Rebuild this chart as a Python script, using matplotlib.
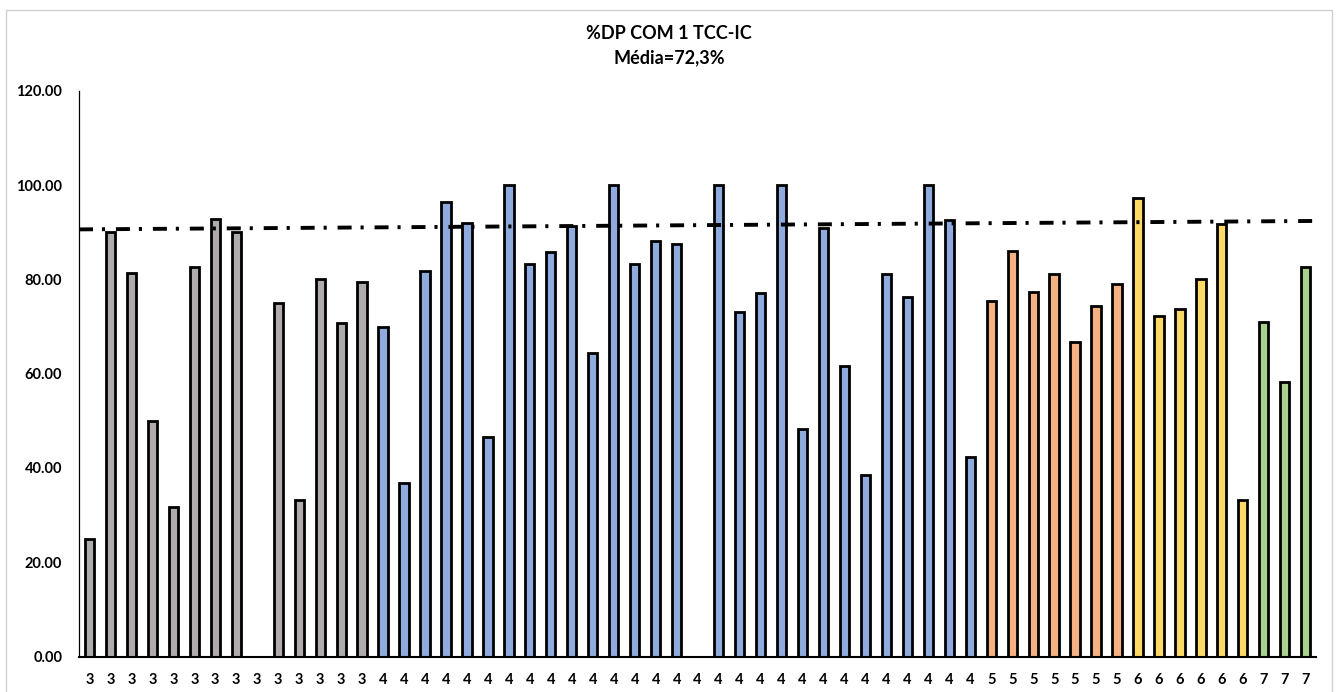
import matplotlib.pyplot as plt
from matplotlib.patches import Rectangle

plt.rcParams['font.family'] = ['Lato', 'DejaVu Sans']

# group code of each entry (x tick labels)
groups = [3] * 14 + [4] * 29 + [5] * 7 + [6] * 6 + [7] * 3

# %DP per entry
values = [
    25.0, 90.0, 81.4, 50.0, 31.7, 82.6, 92.9, 90.0, 0.0, 75.0, 33.3, 80.0, 70.8, 79.4,
    69.9, 36.9, 81.8, 96.5, 92.0, 46.6, 100.0, 83.3, 85.7, 91.3, 64.3, 100.0, 83.3,
    88.2, 87.5, 0.0, 100.0, 73.1, 77.1, 100.0, 48.2, 90.8, 61.7, 38.6, 81.1, 76.2,
    100.0, 92.5, 42.4,
    75.4, 86.1, 77.3, 81.2, 66.7, 74.4, 79.0,
    97.2, 72.2, 73.7, 80.0, 91.7, 33.3,
    70.9, 58.3, 82.7,
]

group_colors = {3: '#AFABAB', 4: '#8FAADC', 5: '#F4B183', 6: '#FFD966', 7: '#A9D18E'}

# dash-dot reference line, start and end value
trend_start = 90.6
trend_end = 92.4

fig = plt.figure(figsize=(13.39, 6.92), dpi=100)
ax = fig.add_axes([0.059, 0.0513, 0.924, 0.8175])

x = list(range(len(values)))
colors = [group_colors[g] for g in groups]
ax.bar(x, values, width=0.44, color=colors, edgecolor='black', linewidth=2.0, zorder=2)

line, = ax.plot([-0.5, len(values) - 0.2], [trend_start, trend_end],
                color='black', linewidth=2.8, zorder=3)
line.set_dashes([3.6, 2.3, 0.8, 2.8])

ax.set_xlim(-0.5, len(values) - 0.5)
ax.set_ylim(0, 120)
ax.set_yticks([0, 20, 40, 60, 80, 100, 120])
ax.set_yticklabels([f'{v:.2f}' for v in [0, 20, 40, 60, 80, 100, 120]])
ax.set_xticks(x)
ax.set_xticklabels([str(g) for g in groups])

ax.tick_params(axis='both', length=0, labelsize=10.5)
ax.tick_params(axis='y', pad=12)
ax.tick_params(axis='x', pad=12)
for lbl in ax.get_xticklabels() + ax.get_yticklabels():
    lbl.set_fontweight('bold')

for side in ['top', 'right']:
    ax.spines[side].set_visible(False)
ax.spines['left'].set_linewidth(0.9)
ax.spines['bottom'].set_linewidth(1.5)

fig.text(0.4997, 0.952, '%DP COM 1 TCC-IC', ha='center', va='center',
         fontsize=13, fontweight='bold')
fig.text(0.4997, 0.917, 'Média=72,3%', ha='center', va='center',
         fontsize=13, fontweight='bold')

# chart area border
fig.patches.append(Rectangle((6 / 1339, -0.01), 1326 / 1339, 1 - 10 / 692 + 0.01,
                             transform=fig.transFigure, fill=False,
                             edgecolor='#D0D0D0', linewidth=1.0))

fig.savefig('out.png', dpi=100)
